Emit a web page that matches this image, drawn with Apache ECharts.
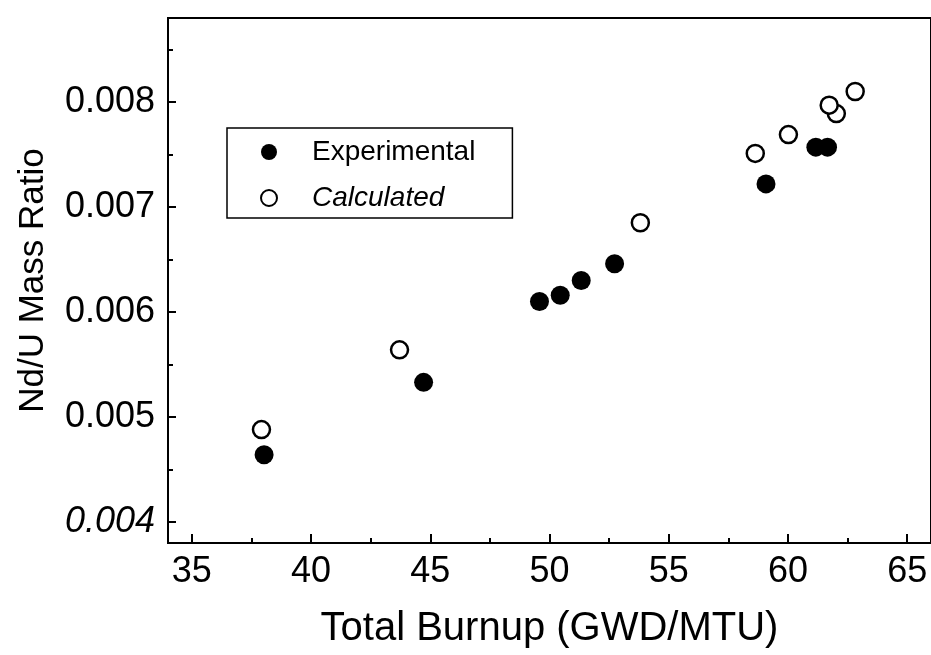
<!DOCTYPE html>
<html>
<head>
<meta charset="utf-8">
<title>Nd/U Mass Ratio vs Total Burnup</title>
<script src="https://cdn.jsdelivr.net/npm/echarts@6/dist/echarts.min.js"></script>
<style>
  html, body { margin: 0; padding: 0; background: #fff; }
  #chart { width: 931px; height: 655px; }
</style>
</head>
<body>
<div id="chart"></div>
<script>
// data
var expBurnup = [38.03, 44.72, 49.58, 50.45, 51.33, 52.73, 59.08, 61.17, 61.66]
var expRatio = [0.00464, 0.00533, 0.00610, 0.00616, 0.00630, 0.00646, 0.00722, 0.00757, 0.00757]
var calcBurnup = [37.92, 43.71, 53.81, 58.63, 60.02, 62.03, 61.73, 62.82]
var calcRatio = [0.00488, 0.00564, 0.00685, 0.00751, 0.00769, 0.00789, 0.00797, 0.00810]

var xTicks = [35, 40, 45, 50, 55, 60, 65]
var xMinorTicks = [37.5, 42.5, 47.5, 52.5, 57.5, 62.5]
var yTicks = [0.004, 0.005, 0.006, 0.007, 0.008]
var yMinorTicks = [0.0045, 0.0055, 0.0065, 0.0075, 0.0085]

function pairs (xs, ys) {
  return xs.map(function (x, i) { return [x, ys[i]] })
}

var font = 'Liberation Sans, Arial, sans-serif'
var chart = echarts.init(document.getElementById('chart'))

var option = {
  backgroundColor: '#fff',
  animation: false,
  textStyle: { fontFamily: font, color: '#000' },
  grid: {
    left: 168,
    top: 18,
    width: 764,
    height: 525,
    show: true,
    borderColor: '#000',
    borderWidth: 2
  },
  legend: {
    orient: 'vertical',
    left: 227,
    top: 128,
    padding: [9, 37, 5, 33],
    itemGap: 16,
    itemWidth: 16,
    itemHeight: 16,
    borderColor: '#000',
    borderWidth: 1.5,
    data: ['Experimental', 'Calculated'],
    formatter: function (name) {
      return name === 'Calculated' ? '{it|' + name + '}' : '{n|' + name + '}'
    },
    textStyle: {
      color: '#000',
      fontSize: 28,
      lineHeight: 30,
      rich: {
        n: { fontSize: 28, fontFamily: font, color: '#000', padding: [0, 0, 0, 30] },
        it: { fontSize: 28, fontFamily: font, color: '#000', fontStyle: 'italic', padding: [0, 0, 0, 30] }
      }
    }
  },
  xAxis: [{
    type: 'value',
    min: 34,
    max: 66,
    name: 'Total Burnup (GWD/MTU)',
    nameLocation: 'middle',
    nameGap: 66,
    nameTextStyle: { fontSize: 40, color: '#000', fontFamily: font },
    axisLine: { show: true, onZero: false, lineStyle: { color: '#000', width: 2 } },
    axisTick: { show: true, inside: true, length: 9, customValues: xTicks, lineStyle: { color: '#000', width: 2 } },
    axisLabel: { customValues: xTicks, fontSize: 36, color: '#000', margin: 11 },
    splitLine: { show: false }
  }, {
    type: 'value',
    position: 'bottom',
    min: 34,
    max: 66,
    axisLine: { show: false },
    axisTick: { show: true, inside: true, length: 5, customValues: xMinorTicks, lineStyle: { color: '#000', width: 2 } },
    axisLabel: { show: false },
    splitLine: { show: false }
  }],
  yAxis: [{
    type: 'value',
    min: 0.0038,
    max: 0.0088,
    name: 'Nd/U Mass Ratio',
    nameLocation: 'middle',
    nameGap: 117,
    nameTextStyle: { fontSize: 35, color: '#000', fontFamily: font },
    axisLine: { show: true, onZero: false, lineStyle: { color: '#000', width: 2 } },
    axisTick: { show: true, inside: true, length: 8, customValues: yTicks, lineStyle: { color: '#000', width: 2 } },
    axisLabel: {
      customValues: yTicks,
      fontSize: 36,
      color: '#000',
      margin: 13,
      formatter: function (v) {
        var s = v.toFixed(3)
        return v < 0.0045 ? '{it|' + s + '}' : s
      },
      rich: {
        it: { fontSize: 36, fontFamily: font, color: '#000', fontStyle: 'italic' }
      }
    },
    splitLine: { show: false }
  }, {
    type: 'value',
    position: 'left',
    min: 0.0038,
    max: 0.0088,
    axisLine: { show: false },
    axisTick: { show: true, inside: true, length: 5, customValues: yMinorTicks, lineStyle: { color: '#000', width: 2 } },
    axisLabel: { show: false },
    splitLine: { show: false }
  }],
  series: [{
    name: 'Experimental',
    type: 'scatter',
    symbol: 'circle',
    symbolSize: 19,
    itemStyle: { color: '#000', opacity: 1 },
    data: pairs(expBurnup, expRatio)
  }, {
    name: 'Calculated',
    type: 'scatter',
    symbol: 'circle',
    symbolSize: 17,
    itemStyle: { color: '#fff', borderColor: '#000', borderWidth: 2.5, opacity: 1 },
    data: pairs(calcBurnup, calcRatio)
  }]
}

chart.setOption(option)
</script>
</body>
</html>
